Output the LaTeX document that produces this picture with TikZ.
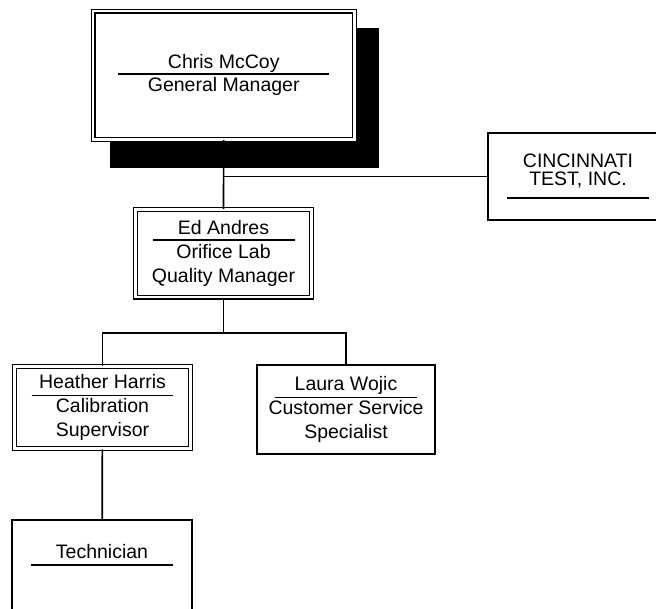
\documentclass[tikz,border=0pt]{standalone}
\usepackage{fontspec}
\setmainfont{Liberation Sans}
\usetikzlibrary{backgrounds}

% name line with a fixed-width rule under it
\newcommand{\ruled}[3]{\makebox[#1]{#3}\llap{\rule[-#2]{#1}{1.6pt}}}

\begin{document}
\begin{tikzpicture}[x=1pt, y=-1pt,
    post/.style={draw, fill=white, line width=1.8pt, inner sep=0pt, align=center,
      font=\fontsize{19.5}{24}\selectfont},
    dbl/.style={post, double, line width=1.2pt, double distance=2.6pt},
    link/.style={line width=1.7pt}]

  \useasboundingbox (0,0) rectangle (656,608);

  % General Manager
  \node[dbl, minimum width=261.5pt, minimum height=128.5pt,
        font=\fontsize{19.5}{23}\selectfont] (gm) at (223.75,75.25)
        {\ruled{211pt}{5.75pt}{Chris McCoy}\\General Manager};
  \begin{scope}[on background layer]
    \fill ([shift={(18,18)}]gm.north west) rectangle ([shift={(23.5,27.5)}]gm.south east);
  \end{scope}

  % Outside lab
  \node[post, minimum width=180pt, minimum height=87pt,
        font=\fontsize{19.5}{18}\selectfont] (cin) at (578,176.5)
        {CINCINNATI\\\ruled{142pt}{12.75pt}{TEST, INC.}};

  % Quality Manager
  \node[dbl, minimum width=176pt, minimum height=87.5pt] (ea) at (223.5,253.25)
        {\ruled{142pt}{6.75pt}{Ed Andres}\\Orifice Lab\\Quality Manager};

  % Staff
  \node[dbl, minimum width=176pt, minimum height=82pt] (hh) at (102.5,407.7)
        {\ruled{142pt}{7.75pt}{Heather Harris}\\Calibration\\Supervisor};
  \node[post, minimum width=178pt, minimum height=89pt] (lw) at (346,409.5)
        {\ruled{142pt}{7.75pt}{Laura Wojic}\\Customer Service\\Specialist};
  \node[post, minimum width=180pt, minimum height=92pt, text height=14pt,
        text depth=30pt] (tech) at (102,566)
        {\ruled{142pt}{7.75pt}{Technician}};

  % Connect boxes
  \coordinate (split) at (223.5,333);
  \draw[link] (gm) -- (ea);
  \draw[link] (cin.west) -- (cin.west -| gm.south);
  \draw[link] (ea) -- (split);
  \draw[link] (hh) |- (split) -| (lw);
  \draw[link] (hh) -- (tech);

\end{tikzpicture}
\end{document}
